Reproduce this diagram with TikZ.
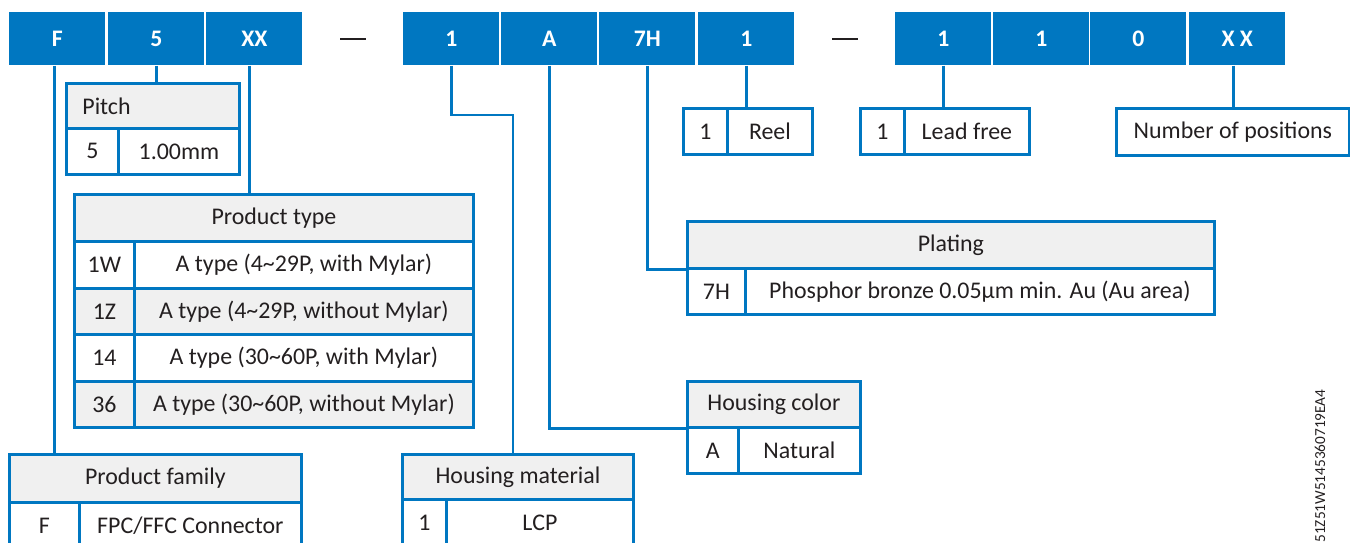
\documentclass[tikz,border=0pt]{standalone}
\usepackage{fontspec}
\setmainfont{Carlito}
\usetikzlibrary{positioning}

\definecolor{codeblue}{HTML}{0077C1}
\definecolor{headgray}{HTML}{F0F0F0}
\definecolor{inktext}{HTML}{231F20}

\newcommand{\cellfont}{\fontsize{13.6}{16}\selectfont}
\newcommand{\tld}{\textasciitilde}

\tikzset{
  codebox/.style={fill=codeblue, text=white, anchor=north west, inner sep=0pt,
    minimum width=1.92cm, minimum height=1.06cm, font=\bfseries\fontsize{13.5}{16}\selectfont},
  cell/.style={draw=codeblue, line width=1.6pt, anchor=north west, inner sep=0pt,
    text=inktext, font=\cellfont},
  headcell/.style={cell, fill=headgray},
  sz/.style 2 args={minimum width=#1*0.02cm, minimum height=#2*0.02cm},
  link/.style={draw=codeblue, line width=1.6pt},
  dashmark/.style={inner sep=0pt, text=inktext},
}

\begin{document}
\begin{tikzpicture}[x=0.02cm,y=-0.02cm]
\useasboundingbox (0,0) rectangle (1350,543);

% part number boxes
\node[codebox] (bF) at (9,12) {F};
\node[codebox] (bFive) at (108,12) {5};
\node[codebox] (bType) at (206,12) {XX};
\node[dashmark] (dashA) at (353,39) {\rule{14.5pt}{1.7pt}};
\node[codebox] (bMat) at (403,12) {1};
\node[codebox] (bColor) at (501,12) {A};
\node[codebox] (bPlate) at (599,12) {7H};
\node[codebox] (bReel) at (698,12) {1};
\node[dashmark] (dashB) at (845,39) {\rule{14.5pt}{1.7pt}};
\node[codebox] (bLead) at (895,12) {1};
\node[codebox] (bOne) at (993,12) {1};
\node[codebox] (bZero) at (1090,12) {0};
\node[codebox] (bPos) at (1189,12) {X\kern3pt X};

% pitch
\node[headcell, sz={173}{45}, text width=2.82cm, align=left] (pitchHead) at (65,82) {Pitch};
\node[cell, sz={52}{46}] (pitchCode) at (65,127) {5};
\node[cell, sz={121}{46}] (pitchDesc) at (117,127) {1.00mm};

% product type
\node[headcell, sz={399}{47}] (typeHead) at (73,193) {Product type};
\node[cell, sz={60}{47}] (typeCodeA) at (73,240) {1W};
\node[cell, sz={339}{47}] (typeDescA) at (133,240) {A type (4\tld29P, with Mylar)};
\node[headcell, sz={60}{46}] (typeCodeB) at (73,287) {1Z};
\node[headcell, sz={339}{46}] (typeDescB) at (133,287) {A type (4\tld29P, without Mylar)};
\node[cell, sz={60}{47}] (typeCodeC) at (73,333) {14};
\node[cell, sz={339}{47}] (typeDescC) at (133,333) {A type (30\tld60P, with Mylar)};
\node[headcell, sz={60}{46}] (typeCodeD) at (73,380) {36};
\node[headcell, sz={339}{46}] (typeDescD) at (133,380) {A type (30\tld60P, without Mylar)};

% product family
\node[headcell, sz={292}{48}] (famHead) at (8,453) {Product family};
\node[cell, sz={70}{46}] (famCode) at (8,501) {F};
\node[cell, sz={222}{46}] (famDesc) at (78,501) {FPC/FFC Connector};

% housing material
\node[headcell, sz={231}{45}] (matHead) at (401,453) {Housing material};
\node[cell, sz={44}{46}] (matCode) at (401,498) {1};
\node[cell, sz={187}{46}] (matDesc) at (445,498) {LCP};

% housing color
\node[headcell, sz={173}{46}] (colHead) at (686,380) {Housing color};
\node[cell, sz={51}{46}] (colCode) at (686,426) {A};
\node[cell, sz={122}{46}] (colDesc) at (737,426) {Natural};

% plating
\node[headcell, sz={527}{47}] (platHead) at (686,220) {Plating};
\node[cell, sz={58}{46}] (platCode) at (686,267) {7H};
\node[cell, sz={469}{46}] (platDesc) at (744,267) {Phosphor bronze 0.05µm min. Au (Au area)};

% reel, lead free, positions
\node[cell, sz={44}{46}] (reelCode) at (682,107) {1};
\node[cell, sz={85}{46}] (reelDesc) at (726,107) {Reel};
\node[cell, sz={44}{46}] (leadCode) at (859,107) {1};
\node[cell, sz={125}{46}] (leadDesc) at (903,107) {Lead free};
\node[cell, sz={233}{47}] (posBox) at (1115,107) {Number of positions};

% connectors
\draw[link] ([xshift=-0.06cm]bF.south) -- ([xshift=-0.06cm]bF.south |- famHead.north);
\draw[link] (bFive.south) -- (bFive.south |- pitchHead.north);
\draw[link] ([xshift=-0.1cm]bType.south) -- ([xshift=-0.1cm]bType.south |- typeHead.north);
\coordinate (matKnee) at (513,115);
\draw[link] (bMat.south) |- (matKnee) -- (matKnee |- matHead.north);
\draw[link] (bColor.south) |- (colHead.south west);
\draw[link] (bPlate.south) |- (platHead.south west);
\draw[link] (bReel.south) -- (bReel.south |- reelCode.north);
\draw[link] (bLead.south) -- (bLead.south |- leadCode.north);
\draw[link] ([xshift=-0.07cm]bPos.south) -- ([xshift=-0.07cm]bPos.south |- posBox.north);

\node[rotate=90, anchor=west, inner sep=0pt, text=inktext,
  font=\fontsize{8.7}{10}\selectfont] (docId) at (1320,543) {51Z51W5145360719EA4};
\end{tikzpicture}
\end{document}
